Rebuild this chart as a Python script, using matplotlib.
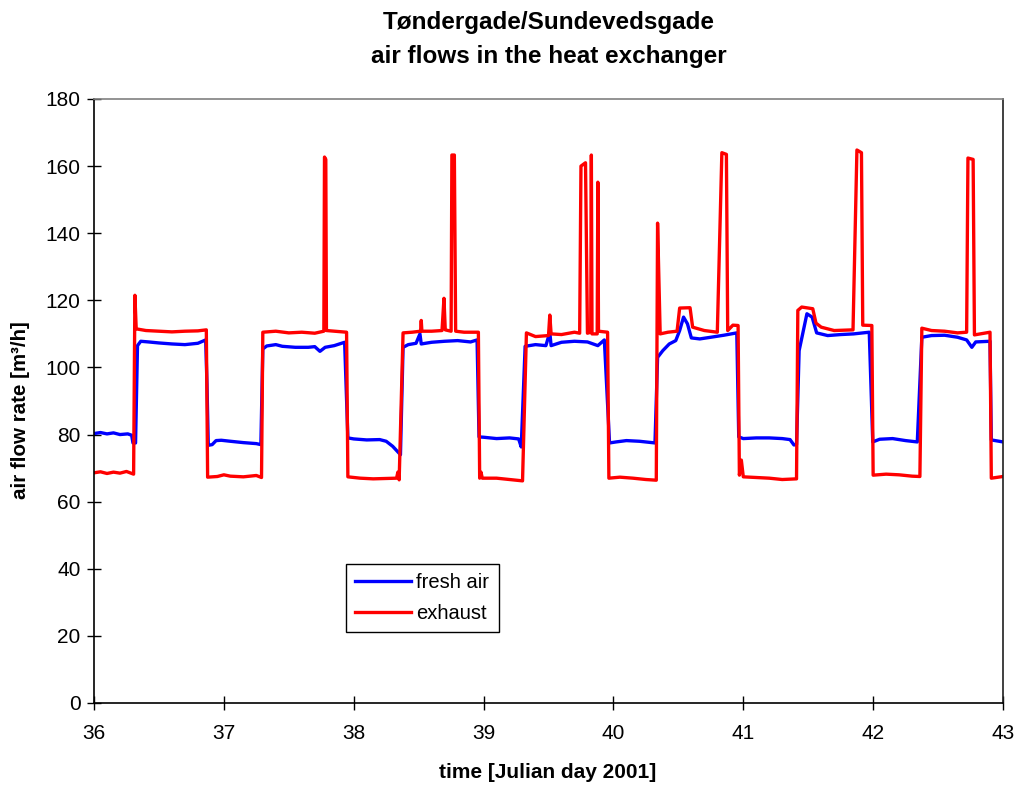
import matplotlib
matplotlib.use('Agg')
import matplotlib.pyplot as plt

plt.rcParams['font.family'] = ['Liberation Sans', 'DejaVu Sans']

# fresh air flow (blue), time in Julian day 2001
fresh_t = [36.00, 36.05, 36.10, 36.15, 36.20, 36.26, 36.29, 36.30, 36.32, 36.335,
           36.36, 36.42, 36.50, 36.60, 36.70, 36.80, 36.86, 36.87, 36.88, 36.91,
           36.94, 36.98, 37.05, 37.15, 37.25, 37.285, 37.30, 37.33, 37.40, 37.45,
           37.55, 37.65, 37.70, 37.74, 37.78, 37.85, 37.93, 37.955, 38.00, 38.10,
           38.20, 38.25, 38.30, 38.36, 38.38, 38.42, 38.48, 38.51, 38.52, 38.60,
           38.70, 38.80, 38.90, 38.95, 38.965, 39.00, 39.10, 39.20, 39.27, 39.29,
           39.32, 39.40, 39.48, 39.51, 39.52, 39.60, 39.70, 39.80, 39.88, 39.93,
           39.97, 40.02, 40.10, 40.20, 40.32, 40.34, 40.38, 40.43, 40.48, 40.51,
           40.54, 40.57, 40.60, 40.665, 40.75, 40.85, 40.95, 40.965, 41.00, 41.10,
           41.20, 41.30, 41.36, 41.39, 41.41, 41.43, 41.49, 41.53, 41.565, 41.65,
           41.75, 41.85, 41.97, 41.997, 42.05, 42.15, 42.25, 42.34, 42.375, 42.45,
           42.55, 42.65, 42.72, 42.76, 42.79, 42.90, 42.91, 43.00]
fresh_v = [80.3, 80.6, 80.2, 80.5, 80.0, 80.2, 79.8, 77.5, 77.5, 106.5,
           107.8, 107.6, 107.3, 107.0, 106.8, 107.2, 108.2, 95.0, 76.8, 77.0,
           78.2, 78.3, 78.0, 77.6, 77.3, 77.0, 105.5, 106.4, 106.8, 106.3,
           106.0, 106.0, 106.2, 104.8, 106.0, 106.5, 107.5, 79.0, 78.7, 78.4,
           78.5, 78.0, 76.5, 74.0, 106.0, 106.8, 107.2, 110.0, 107.0, 107.5,
           107.8, 108.0, 107.6, 108.2, 79.3, 79.2, 78.8, 79.0, 78.7, 76.3,
           106.3, 106.8, 106.5, 110.5, 106.5, 107.5, 107.8, 107.6, 106.5, 108.2,
           77.5, 77.8, 78.2, 78.0, 77.5, 103.0, 105.0, 107.0, 108.0, 111.0,
           115.0, 113.0, 108.8, 108.5, 109.0, 109.6, 110.3, 79.3, 78.8, 79.0,
           79.0, 78.8, 78.5, 76.9, 77.0, 105.0, 116.0, 115.0, 110.3, 109.5,
           109.8, 110.0, 110.5, 77.8, 78.6, 78.8, 78.2, 77.8, 109.0, 109.5,
           109.6, 109.0, 108.2, 106.0, 107.6, 107.8, 78.4, 77.8]

# exhaust flow (red)
exhaust_t = [36.00, 36.05, 36.10, 36.15, 36.20, 36.25, 36.305, 36.315, 36.325, 36.40,
             36.50, 36.60, 36.70, 36.80, 36.865, 36.875, 36.95, 37.00, 37.05, 37.15,
             37.25, 37.29, 37.30, 37.40, 37.50, 37.60, 37.70, 37.77, 37.775, 37.785,
             37.79, 37.85, 37.945, 37.955, 38.05, 38.15, 38.25, 38.33, 38.34, 38.35,
             38.38, 38.45, 38.515, 38.52, 38.525, 38.60, 38.68, 38.695, 38.705, 38.75,
             38.756, 38.775, 38.785, 38.85, 38.96, 38.97, 38.98, 38.99, 39.10, 39.20,
             39.30, 39.33, 39.40, 39.50, 39.51, 39.52, 39.60, 39.70, 39.74, 39.75,
             39.785, 39.80, 39.825, 39.83, 39.835, 39.875, 39.88, 39.885, 39.955, 39.965,
             40.05, 40.15, 40.25, 40.33, 40.34, 40.36, 40.42, 40.49, 40.51, 40.59,
             40.61, 40.70, 40.80, 40.835, 40.87, 40.88, 40.92, 40.96, 40.97, 40.985,
             41.00, 41.10, 41.20, 41.30, 41.41, 41.42, 41.45, 41.535, 41.56, 41.60,
             41.70, 41.845, 41.875, 41.91, 41.92, 41.99, 42.00, 42.10, 42.20, 42.30,
             42.36, 42.375, 42.45, 42.55, 42.65, 42.72, 42.73, 42.77, 42.78, 42.90,
             42.91, 43.00]
exhaust_v = [68.6, 68.9, 68.4, 68.8, 68.5, 69.0, 68.2, 121.5, 111.5, 111.0,
             110.8, 110.6, 110.8, 110.9, 111.2, 67.3, 67.5, 68.0, 67.6, 67.4,
             67.8, 67.2, 110.5, 110.8, 110.3, 110.5, 110.2, 110.8, 162.7, 162.0,
             111.0, 110.8, 110.5, 67.4, 67.0, 66.8, 66.9, 67.0, 68.8, 66.5,
             110.3, 110.5, 110.8, 114.0, 110.8, 110.8, 111.0, 120.6, 111.2, 110.8,
             163.3, 163.3, 110.8, 110.5, 110.5, 67.0, 68.8, 67.0, 67.0, 66.6,
             66.2, 110.3, 109.2, 109.5, 115.6, 110.0, 109.8, 110.5, 110.2, 160.0,
             161.0, 110.2, 110.5, 163.3, 110.0, 110.0, 155.2, 110.8, 110.5, 67.0,
             67.3, 67.0, 66.6, 66.4, 143.0, 110.0, 110.5, 110.8, 117.7, 117.8,
             112.0, 111.0, 110.5, 164.0, 163.5, 111.0, 112.6, 112.5, 67.9, 72.4,
             67.4, 67.2, 67.0, 66.6, 66.8, 117.0, 118.0, 117.5, 113.2, 112.0,
             111.0, 111.2, 164.8, 164.0, 112.6, 112.5, 67.9, 68.2, 68.0, 67.6,
             67.5, 111.7, 111.0, 110.8, 110.3, 110.5, 162.4, 162.0, 109.7, 110.5,
             67.0, 67.5]

x_ticks = [36, 37, 38, 39, 40, 41, 42, 43]
y_ticks = [0, 20, 40, 60, 80, 100, 120, 140, 160, 180]

W, H = 1021, 788
fig = plt.figure(figsize=(W / 100, H / 100), dpi=100)
ax = fig.add_axes([94 / W, 1 - 703 / H, (1003 - 94) / W, (703 - 99) / H])

ax.plot(fresh_t, fresh_v, color='#0000ff', lw=2.4, label='fresh air')
ax.plot(exhaust_t, exhaust_v, color='#ff0000', lw=2.4, label='exhaust')

ax.set_xlim(36, 43)
ax.set_ylim(0, 180)
ax.set_xticks(x_ticks)
ax.set_yticks(y_ticks)
ax.tick_params(axis='both', direction='inout', length=9.5, width=1, labelsize=15, colors='black')
ax.tick_params(axis='x', pad=10.5)
ax.tick_params(axis='y', pad=5)

ax.spines['top'].set_color('#808080')
ax.spines['right'].set_color('#202020')
for s in ['left', 'bottom']:
    ax.spines[s].set_color('black')
for s in ax.spines.values():
    s.set_linewidth(1.2)

fig.text(549 / W, 1 - 23 / H, 'Tøndergade/Sundevedsgade', ha='center', va='center',
         fontsize=17.5, fontweight='bold')
fig.text(549 / W, 1 - 57 / H, 'air flows in the heat exchanger', ha='center', va='center',
         fontsize=17.5, fontweight='bold')
fig.text(548 / W, 1 - 772 / H, 'time [Julian day 2001]', ha='center', va='center',
         fontsize=15, fontweight='bold')
fig.text(20 / W, 1 - 410 / H, 'air flow rate [m³/h]', ha='center', va='center',
         rotation=90, fontsize=14.8, fontweight='bold')

leg = ax.legend(loc='upper left', bbox_to_anchor=(346 / W, 1 - 564 / H),
                bbox_transform=fig.transFigure, borderaxespad=0, fancybox=False,
                framealpha=1, edgecolor='black', fontsize=14.5, handlelength=2.8,
                handletextpad=0.25, labelspacing=0.6, borderpad=0.45)
leg.get_frame().set_linewidth(1.0)

fig.savefig('out.png', dpi=100)
